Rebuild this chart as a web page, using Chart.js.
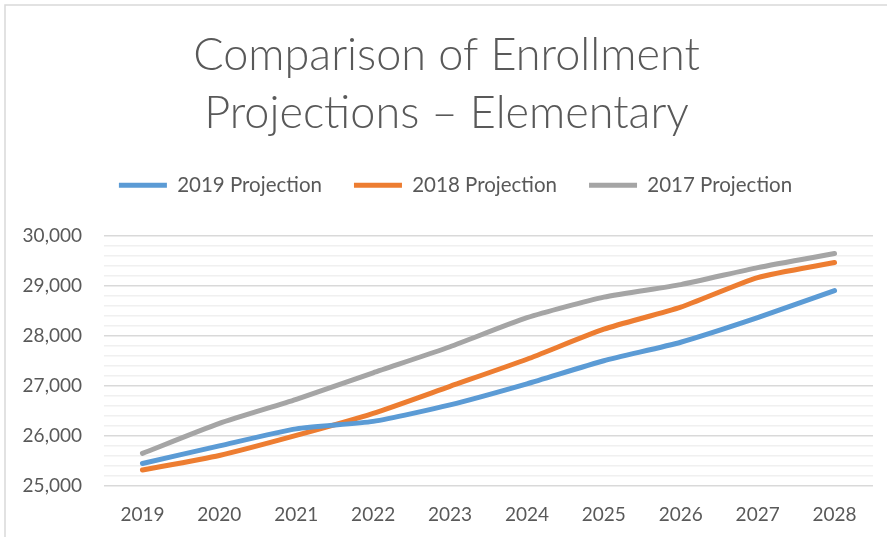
<!DOCTYPE html>
<html>
<head>
<meta charset="utf-8">
<script src="https://cdn.jsdelivr.net/npm/chart.js@4"></script>
<style>
  html, body { margin: 0; padding: 0; background: #fff; }
  #wrap { position: relative; width: 887px; height: 537px; }
</style>
</head>
<body>
<div id="wrap"><canvas id="c" width="887" height="537"></canvas></div>
<script>
const years = ['2019','2020','2021','2022','2023','2024','2025','2026','2027','2028'];
const proj2019 = [25450, 25800, 26140, 26290, 26620, 27040, 27500, 27870, 28360, 28900];
const proj2018 = [25320, 25610, 26010, 26450, 26990, 27530, 28130, 28570, 29160, 29460];
const proj2017 = [25650, 26250, 26730, 27260, 27780, 28360, 28770, 29020, 29360, 29640];
const seriesNames = ['2019 Projection', '2018 Projection', '2017 Projection'];
const seriesColors = ['#5B9BD5', '#ED7D31', '#A5A5A5'];
const yMin = 25000, yMax = 30000, yMinorStep = 200, yMajorStep = 1000;
const titleLines = ['Comparison of Enrollment', 'Projections \u2013 Elementary'];

const textColor = '#595959';
const baseFont = 'Lato, "Open Sans", "Liberation Sans", sans-serif';

const frame = {
  id: 'frame',
  beforeDraw(chart) {
    const ctx = chart.ctx;
    ctx.save();
    ctx.fillStyle = '#fff';
    ctx.fillRect(0, 0, chart.width, chart.height);
    ctx.strokeStyle = '#d9d9d9';
    ctx.lineWidth = 1.5;
    ctx.strokeRect(5, 5, chart.width + 10, chart.height + 10);
    ctx.restore();
  }
};

const legendTweak = {
  id: 'legendTweak',
  beforeInit(chart) {
    const orig = chart.legend.fit;
    chart.legend.fit = function () {
      orig.bind(chart.legend)();
      this.height += 30;
    };
  },
  afterLayout(chart) {
    chart.legend.left += 9;
    chart.legend.right += 9;
  }
};

const datasets = [proj2019, proj2018, proj2017].map((d, i) => ({
  label: seriesNames[i],
  data: d,
  borderColor: seriesColors[i],
  backgroundColor: seriesColors[i],
  borderWidth: 5,
  pointRadius: 0,
  pointHoverRadius: 0,
  tension: 0.2,
  borderCapStyle: 'round',
  borderJoinStyle: 'round',
  fill: false
}));

new Chart(document.getElementById('c'), {
  type: 'line',
  data: { labels: years, datasets },
  plugins: [frame, legendTweak],
  options: {
    responsive: false,
    animation: false,
    events: [],
    layout: { padding: { left: 20, right: 14, top: 0, bottom: 0 } },
    plugins: {
      title: {
        display: true,
        text: titleLines,
        color: textColor,
        font: { family: baseFont, size: 45, weight: 300, lineHeight: 1.278 },
        padding: { top: 27, bottom: 1 }
      },
      legend: {
        display: true,
        position: 'top',
        labels: {
          color: textColor,
          font: { family: baseFont, size: 20.5 },
          boxWidth: 48,
          boxHeight: 5,
          padding: 32,
          useBorderRadius: true,
          borderRadius: 2.5,
          generateLabels(chart) {
            return chart.data.datasets.map((ds, i) => ({
              text: ds.label,
              fillStyle: ds.borderColor,
              strokeStyle: ds.borderColor,
              lineWidth: 0,
              fontColor: textColor,
              datasetIndex: i,
              hidden: false
            }));
          }
        }
      },
      tooltip: { enabled: false }
    },
    scales: {
      x: {
        offset: true,
        afterFit(scale) { scale.height = 51; },
        grid: { display: false, drawTicks: false },
        border: { display: false },
        ticks: {
          color: textColor,
          font: { family: baseFont, size: 19 },
          padding: 17,
          maxRotation: 0
        }
      },
      y: {
        min: yMin,
        max: yMax,
        afterFit(scale) { scale.width = 84; },
        border: { display: false },
        grid: {
          drawTicks: false,
          lineWidth: 1.5,
          color: (ctx) => (ctx.tick && ctx.tick.value % yMajorStep === 0) ? '#d9d9d9' : '#f0f0f0'
        },
        ticks: {
          stepSize: yMinorStep,
          autoSkip: false,
          color: textColor,
          font: { family: baseFont, size: 19 },
          padding: 22,
          callback: (v) => (v % yMajorStep === 0) ? v.toLocaleString('en-US') : ''
        }
      }
    }
  }
});
</script>
</body>
</html>
